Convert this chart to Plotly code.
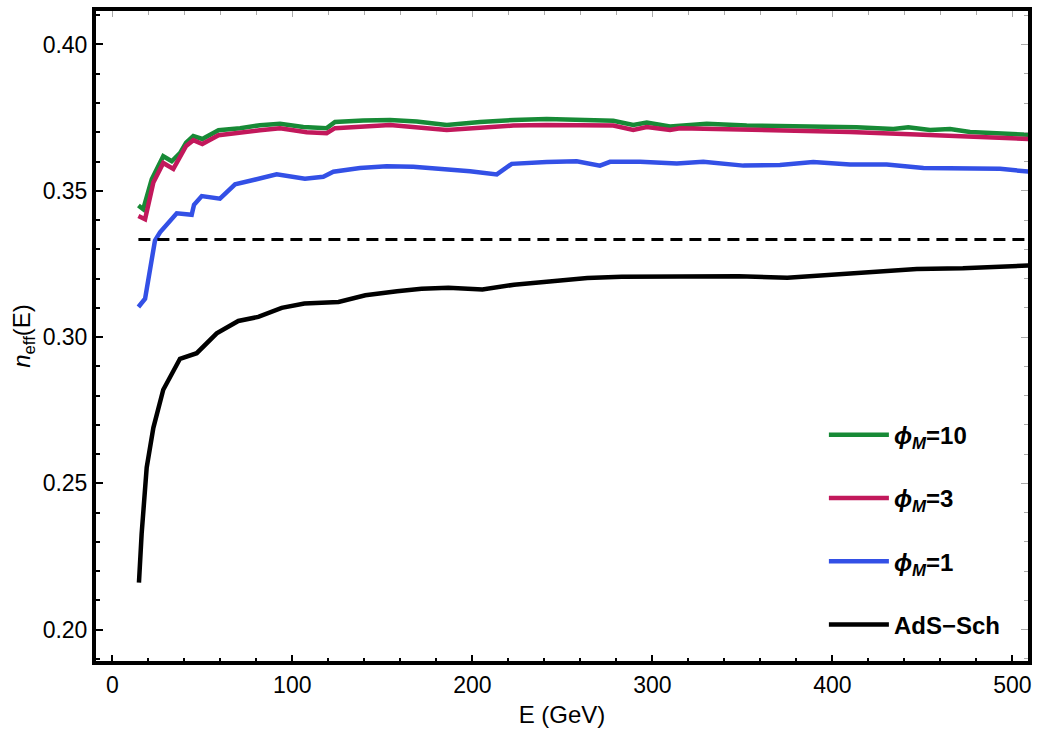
import plotly.graph_objects as go

# ---- data ----
E_phi10 = [14.5, 17.2, 21.9, 28.3, 33, 37.6, 41, 45, 50, 59, 71, 82, 93.2, 106.1, 119.1, 123.7,
           139.4, 154.3, 169.1, 185.8, 204.3, 222.8, 241.3, 259.8, 278.3, 289.4, 296.9, 309.8,
           330.2, 352.4, 372.8, 391.3, 413.5, 433.9, 442.2, 454.3, 465.4, 476.5, 509.8]
n_phi10 = [0.3450, 0.3437, 0.3539, 0.3618, 0.3601, 0.3629, 0.3664, 0.3687, 0.3677, 0.3707, 0.3714,
           0.3724, 0.3729, 0.3718, 0.3714, 0.3735, 0.3740, 0.3742, 0.3737, 0.3725, 0.3735, 0.3742,
           0.3745, 0.3742, 0.3739, 0.3725, 0.3733, 0.3720, 0.3729, 0.3723, 0.3721, 0.3717, 0.3717,
           0.3711, 0.3717, 0.3708, 0.3711, 0.3701, 0.3691]

E_phi3 = [14.5, 18.2, 22.8, 28.3, 33.9, 38.6, 41, 45, 50, 59, 71, 82, 93.2, 108, 119.1, 123.7,
          154.3, 185.8, 222.8, 241.3, 278.3, 289.4, 296.9, 309.8, 315.4, 372.8, 409.8, 446.9,
          483.9, 509.8]
n_phi3 = [0.3414, 0.3403, 0.3528, 0.3595, 0.3575, 0.3629, 0.3653, 0.3673, 0.3660, 0.3690, 0.3700,
          0.3707, 0.3714, 0.3700, 0.3697, 0.3714, 0.3725, 0.3708, 0.3723, 0.3725, 0.3723, 0.3708,
          0.3718, 0.3708, 0.3714, 0.3708, 0.3701, 0.3692, 0.3684, 0.3677]

E_phi1 = [14.5, 18.2, 23.7, 26.5, 35.8, 44.1, 45.4, 49.7, 59.8, 68.2, 91.3, 107, 117.2, 122.8,
          137.6, 152.4, 167.2, 183.9, 198.7, 213.6, 221.9, 241.3, 258, 270.9, 276.5, 293.2,
          313.6, 328.3, 350.6, 370.9, 389.4, 409.8, 430.2, 450.6, 474.7, 493.2, 509.8]
n_phi1 = [0.3103, 0.3131, 0.3330, 0.3358, 0.3423, 0.3418, 0.3452, 0.3482, 0.3473, 0.3522, 0.3556,
          0.3541, 0.3548, 0.3565, 0.3578, 0.3584, 0.3582, 0.3576, 0.3567, 0.3556, 0.3592, 0.3598,
          0.3601, 0.3586, 0.3599, 0.3599, 0.3593, 0.3599, 0.3586, 0.3588, 0.3598, 0.3590, 0.3590,
          0.3578, 0.3578, 0.3575, 0.3565]

E_ads = [14.8, 16.3, 19.1, 22.8, 28.3, 37.6, 46.9, 58, 70, 81.1, 94.1, 106.7, 125.7, 140.6,
         158.2, 171.8, 186.7, 205.6, 223.2, 242.2, 263.9, 282.9, 320.8, 347.9, 375, 409.8,
         446.9, 472.5, 509.8]
n_ads = [0.2161, 0.2328, 0.2554, 0.2690, 0.2820, 0.2926, 0.2945, 0.3013, 0.3055, 0.3069, 0.3100,
         0.3115, 0.3120, 0.3143, 0.3157, 0.3165, 0.3169, 0.3163, 0.3179, 0.3191, 0.3202, 0.3206,
         0.3209, 0.3208, 0.3203, 0.3219, 0.3233, 0.3235, 0.3245]

E_conf = [14.5, 515]
n_conf = [1 / 3, 1 / 3]

x_ticks = [0, 100, 200, 300, 400, 500]
y_ticks = [0.20, 0.25, 0.30, 0.35, 0.40]
y_ticktext = ["0.20", "0.25", "0.30", "0.35", "0.40"]

names = ["<b><i>ϕ</i><sub><i>M</i></sub>=10</b>", "<b><i>ϕ</i><sub><i>M</i></sub>=3</b>",
         "<b><i>ϕ</i><sub><i>M</i></sub>=1</b>", "<b>AdS−Sch</b>"]
colors = ["#178a36", "#c2185b", "#3350e6", "#000000"]

X_RANGE = [-9.06, 508.7]
Y_RANGE = [0.18931, 0.41144]
FONT = "Liberation Sans, Arial, sans-serif"

fig = go.Figure()

series = [(E_phi10, n_phi10), (E_phi3, n_phi3), (E_phi1, n_phi1), (E_ads, n_ads)]
for i, ((ex, ny), nm, c) in enumerate(zip(series, names, colors)):
    fig.add_trace(go.Scatter(x=ex, y=ny, mode="lines", name=nm, legendgroup=f"g{i}",
                             line=dict(color=c, width=4.5)))

fig.add_trace(go.Scatter(x=E_conf, y=n_conf, mode="lines", showlegend=False,
                         line=dict(color="black", width=3, dash="12px,7px")))

# invisible trace to activate mirrored gray-tick axes
fig.add_trace(go.Scatter(x=[None], y=[None], xaxis="x2", yaxis="y2", showlegend=False,
                         hoverinfo="skip"))

font_ticks = dict(family=FONT, size=23, color="black")

fig.update_layout(
    width=1042, height=740,
    margin=dict(l=96, r=14, t=7, b=79),
    paper_bgcolor="white", plot_bgcolor="white",
    font=dict(family=FONT, color="black"),
    showlegend=True,
    legend=dict(x=0.781, y=0.382, xanchor="left", yanchor="top", itemwidth=60,
                bgcolor="rgba(0,0,0,0)", tracegroupgap=29,
                font=dict(family=FONT, size=24, color="black")),
    xaxis=dict(range=X_RANGE, tickvals=x_ticks, ticks="inside", ticklen=6, tickwidth=2,
               tickcolor="black", showline=True, linewidth=4, linecolor="black", mirror=True,
               showgrid=False, zeroline=False, tickfont=font_ticks,
               minor=dict(dtick=20, tick0=0, ticks="inside", ticklen=3.5, tickwidth=2,
                          tickcolor="black", showgrid=False),
               title=dict(text="E (GeV)", standoff=11,
                          font=dict(family=FONT, size=24, color="black"))),
    yaxis=dict(range=Y_RANGE, tickvals=y_ticks, ticktext=y_ticktext, ticks="inside", ticklen=7,
               tickwidth=2, tickcolor="black", showline=True, linewidth=4, linecolor="black",
               mirror=True, showgrid=False, zeroline=False, tickfont=font_ticks,
               minor=dict(dtick=0.01, tick0=0, ticks="inside", ticklen=4, tickwidth=2,
                          tickcolor="black", showgrid=False),
               title=dict(text="<i>n</i><sub>eff</sub>(E)", standoff=6,
                          font=dict(family=FONT, size=24, color="black"))),
    xaxis2=dict(range=X_RANGE, overlaying="x", side="top", tickvals=x_ticks, ticks="inside",
                ticklen=6, tickwidth=1, tickcolor="#aaaaaa", showticklabels=False,
                showline=False, showgrid=False, zeroline=False,
                minor=dict(dtick=20, tick0=0, ticks="inside", ticklen=3.5, tickwidth=1,
                           tickcolor="#aaaaaa", showgrid=False)),
    yaxis2=dict(range=Y_RANGE, overlaying="y", side="right", tickvals=y_ticks, ticks="inside",
                ticklen=7, tickwidth=1, tickcolor="#aaaaaa", showticklabels=False,
                showline=False, showgrid=False, zeroline=False,
                minor=dict(dtick=0.01, tick0=0, ticks="inside", ticklen=4, tickwidth=1,
                           tickcolor="#aaaaaa", showgrid=False)),
)

fig.write_html("out.html")
